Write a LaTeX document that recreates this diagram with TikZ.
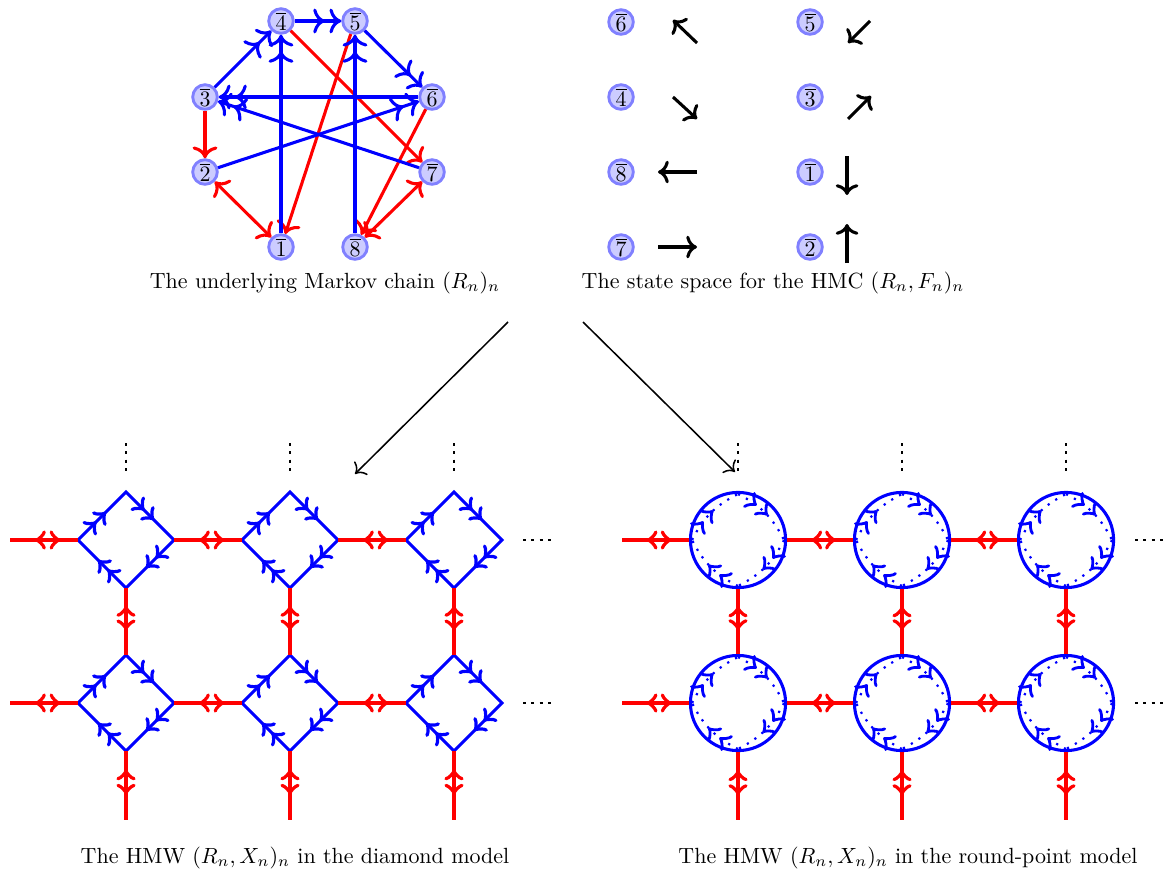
\documentclass[tikz,border=0pt]{standalone}
\usetikzlibrary{decorations.markings,arrows.meta}
\begin{document}
\begin{tikzpicture}[x=0.455pt,y=-0.455pt,
  lw/.style={line width=1.4pt},
  st/.style={circle, draw=blue!50, fill=blue!20, line width=1.3pt, inner sep=0.5pt, minimum size=11pt},
  bl/.style={blue, lw, -{To[scale=1.15,sep=2pt]To[scale=1.15]}},
  rd/.style={red, lw, -{To[scale=1.15]}},
  rdd/.style={red, lw, {To[scale=1.15]}-{To[scale=1.15]}},
  sa/.style={black, lw, -{To[scale=1.05]}},
  big/.style={black, line width=0.7pt, -{To[scale=1.3]}},
  vd/.style={black, line width=1.3pt, dash pattern=on 1.3pt off 2.5pt},
  dia/.style={blue, lw, line join=miter, postaction={decorate}, decoration={markings,
      mark=at position 0.095 with {\arrow[scale=1.3]{to}},
      mark=at position 0.145 with {\arrow[scale=1.3]{to}},
      mark=at position 0.345 with {\arrow[scale=1.3]{to}},
      mark=at position 0.395 with {\arrow[scale=1.3]{to}},
      mark=at position 0.595 with {\arrow[scale=1.3]{to}},
      mark=at position 0.645 with {\arrow[scale=1.3]{to}},
      mark=at position 0.845 with {\arrow[scale=1.3]{to}},
      mark=at position 0.895 with {\arrow[scale=1.3]{to}}}},
  hlink/.style={red, lw, postaction={decorate}, decoration={markings,
      mark=at position 0.37 with {\arrowreversed[scale=1.3]{to}},
      mark=at position 0.74 with {\arrow[scale=1.3]{to}}}},
  vlink/.style={red, lw, postaction={decorate}, decoration={markings,
      mark=at position 0.27 with {\arrowreversed[scale=1.3]{to}},
      mark=at position 0.63 with {\arrow[scale=1.3]{to}}}},
  rc/.style={circle, draw=blue, lw, minimum size=43.3pt, inner sep=0pt},
  rarc/.style={blue, line width=1pt, dash pattern=on 1pt off 3.1pt, postaction={decorate}, decoration={markings,
      mark=at position 0.33 with {\arrow[scale=1.6]{to}},
      mark=at position 0.55 with {\arrow[scale=1.6]{to}}}},
  captxt/.style={inner sep=0pt}
]
\useasboundingbox (0,0) rectangle (1170,875);

% ---------- Markov chain ----------
\node[st] (m4) at (281,21) {$\overline{4}$};
\node[st] (m5) at (355,21) {$\overline{5}$};
\node[st] (m3) at (205,97) {$\overline{3}$};
\node[st] (m6) at (432,97) {$\overline{6}$};
\node[st] (m2) at (205,172) {$\overline{2}$};
\node[st] (m7) at (432,172) {$\overline{7}$};
\node[st] (m1) at (281,247) {$\overline{1}$};
\node[st] (m8) at (355,247) {$\overline{8}$};

\draw[rd] (m3) -- (m2);
\draw[rdd] (m2) -- (m1);
\draw[rd] (m4) -- (m7);
\draw[rd] (m5) -- (m1);
\draw[rd] (m6) -- (m8);
\draw[rdd] (m7) -- (m8);
\draw[bl] (m4) -- (m5);
\draw[bl] (m3) -- (m4);
\draw[bl] (m5) -- (m6);
\draw[bl] (m1) -- (m4);
\draw[bl] (m8) -- (m5);
\draw[bl] (m6) -- (m3);
\draw[bl] (m7) -- (m3);
\draw[bl] (m2) -- (m6);

\node[captxt] (capA) at (325,283) {The underlying Markov chain $(R_n)_n$};

% ---------- State space ----------
\node[st] (s6) at (621,22) {$\overline{6}$};
\node[st] (s5) at (810,22) {$\overline{5}$};
\node[st] (s4) at (621,97) {$\overline{4}$};
\node[st] (s3) at (810,97) {$\overline{3}$};
\node[st] (s8) at (621,172) {$\overline{8}$};
\node[st] (s1) at (810,172) {$\overline{1}$};
\node[st] (s7) at (621,247) {$\overline{7}$};
\node[st] (s2) at (810,247) {$\overline{2}$};

\draw[sa] (697,43) -- (673,20);
\draw[sa] (870,21) -- (848,43);
\draw[sa] (673,97) -- (697,119);
\draw[sa] (848,119) -- (871,96);
\draw[sa] (697,172) -- (658,172);
\draw[sa] (847,156) -- (847,195);
\draw[sa] (658,247) -- (697,247);
\draw[sa] (847,263) -- (847,224);

\node[captxt] (capB) at (773,283) {The state space for the HMC $(R_n,F_n)_n$};

% ---------- big arrows ----------
\coordinate (a0) at (508,322);
\coordinate (a1) at (355,474);
\coordinate (b0) at (583,322);
\coordinate (b1) at (735,472);
\draw[big] (a0) -- (a1);
\draw[big] (b0) -- (b1);

% ---------- diamond model ----------
\foreach \i/\x in {1/126,2/290,3/454}{
  \foreach \j/\y in {1/540,2/703}{
    \coordinate (D\i\j-l) at (\x-48,\y);
    \coordinate (D\i\j-t) at (\x,\y-48);
    \coordinate (D\i\j-r) at (\x+48,\y);
    \coordinate (D\i\j-b) at (\x,\y+48);
    \draw[dia] (D\i\j-l) -- (D\i\j-t) -- (D\i\j-r) -- (D\i\j-b) -- cycle;
  }
  \coordinate (DT\i) at (\x,443);
  \coordinate (DT\i e) at (\x,471);
  \coordinate (DB\i) at (\x,820);
  \draw[vd] (DT\i) -- (DT\i e);
}
\foreach \j/\y in {1/540,2/703}{
  \coordinate (DL\j) at (10,\y);
  \coordinate (DR\j) at (523,\y);
  \coordinate (DR\j e) at (551,\y);
  \draw[vd] (DR\j) -- (DR\j e);
  \draw[hlink] (DL\j) -- (D1\j-l);
  \draw[hlink] (D1\j-r) -- (D2\j-l);
  \draw[hlink] (D2\j-r) -- (D3\j-l);
}
\foreach \i in {1,2,3}{
  \draw[vlink] (D\i1-b) -- (D\i2-t);
  \draw[vlink] (D\i2-b) -- (DB\i);
}

\node[captxt] (capC) at (295,858) {The HMW $(R_n,X_n)_n$ in the diamond model};

% ---------- round-point model ----------
\foreach \i/\x in {1/738,2/902,3/1066}{
  \foreach \j/\y in {1/540,2/703}{
    \node[rc] (R\i\j) at (\x,\y) {};
    \draw[rarc] (\x-46,\y) to[bend left=18] (\x,\y-46);
    \draw[rarc] (\x,\y-46) to[bend left=18] (\x+46,\y);
    \draw[rarc] (\x+46,\y) to[bend left=18] (\x,\y+46);
    \draw[rarc] (\x,\y+46) to[bend left=18] (\x-46,\y);
  }
  \coordinate (RT\i) at (\x,443);
  \coordinate (RT\i e) at (\x,471);
  \coordinate (RB\i) at (\x,820);
  \draw[vd] (RT\i) -- (RT\i e);
}
\foreach \j/\y in {1/540,2/703}{
  \coordinate (RL\j) at (622,\y);
  \coordinate (RR\j) at (1135,\y);
  \coordinate (RR\j e) at (1163,\y);
  \draw[vd] (RR\j) -- (RR\j e);
  \draw[hlink] (RL\j) -- (R1\j.west);
  \draw[hlink] (R1\j.east) -- (R2\j.west);
  \draw[hlink] (R2\j.east) -- (R3\j.west);
}
\foreach \i in {1,2,3}{
  \draw[vlink] (R\i1.south) -- (R\i2.north);
  \draw[vlink] (R\i2.south) -- (RB\i);
}

\node[captxt] (capD) at (908,858) {The HMW $(R_n,X_n)_n$ in the round-point model};
\end{tikzpicture}
\end{document}
